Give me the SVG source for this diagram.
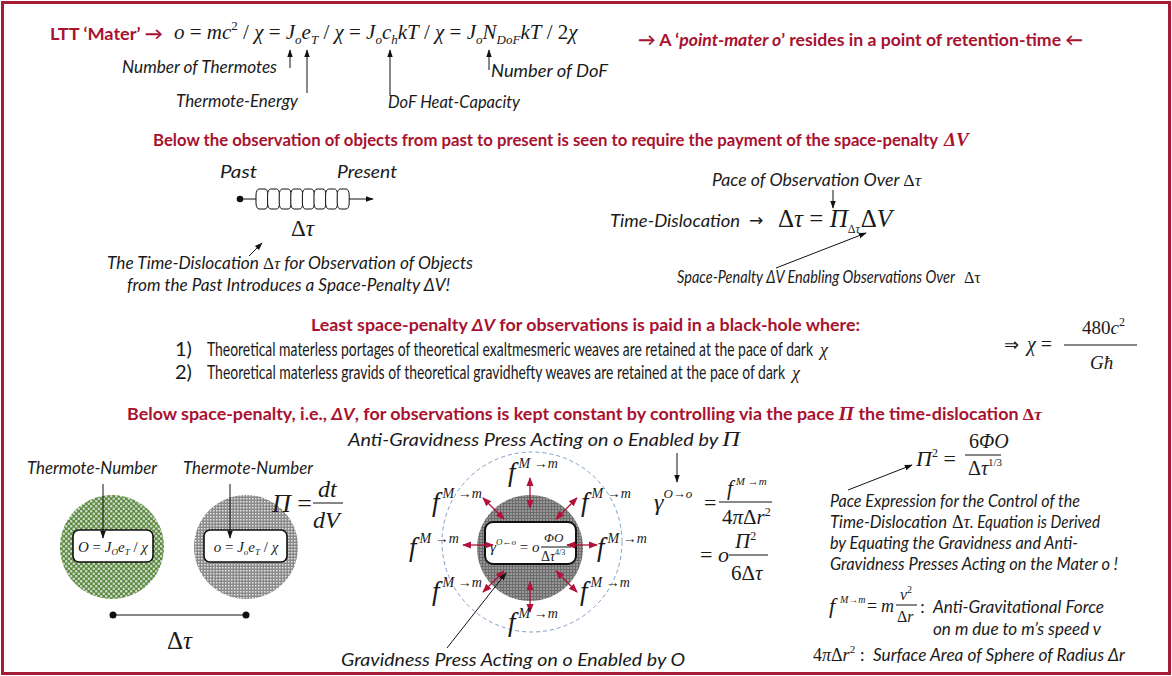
<svg xmlns="http://www.w3.org/2000/svg" width="1172" height="676" viewBox="0 0 1172 676">
<defs>
<style>
text{font-family:Lato,"Liberation Sans",sans-serif;fill:#1a1a1a}
.red{fill:#A8122F;font-weight:bold;font-size:17px}
.it{font-style:italic;font-size:17px}
.m{font-family:"Liberation Serif","Times New Roman",serif;font-style:italic}
.r{font-family:"Liberation Serif","Times New Roman",serif;font-style:normal}
.ln{stroke:#111;stroke-width:1;fill:none}
.arr{stroke:#111;stroke-width:1;fill:none;marker-end:url(#ah)}
.rarr{stroke:#B0123A;stroke-width:1.3;fill:none;marker-start:url(#rh);marker-end:url(#rh)}
.box{fill:#fff;stroke:#111;stroke-width:1.6}
.disk{fill:#fff;stroke:#111;stroke-width:1}
</style>
<marker id="ah" viewBox="0 0 10 10" refX="9" refY="5" markerWidth="8" markerHeight="8" orient="auto-start-reverse" markerUnits="userSpaceOnUse"><path d="M0,1.5 L10,5 L0,8.5 z" fill="#111"/></marker>
<marker id="rh" viewBox="0 0 10 10" refX="9" refY="5" markerWidth="9" markerHeight="9" orient="auto-start-reverse" markerUnits="userSpaceOnUse"><path d="M0,1 L10,5 L0,9 z" fill="#B0123A"/></marker>
<pattern id="pGreen" width="5" height="5" patternUnits="userSpaceOnUse"><rect width="5" height="5" fill="#5a8a3e"/><circle cx="1.25" cy="1.25" r="1.3" fill="#cfd8c8"/><circle cx="3.75" cy="3.75" r="1.3" fill="#cfd8c8"/></pattern>
<pattern id="pGray" width="3" height="3" patternUnits="userSpaceOnUse"><rect width="3" height="3" fill="#8a8a8a"/><rect width="1.5" height="1.5" fill="#e6e6e6"/></pattern>
<pattern id="pDark" width="3" height="3" patternUnits="userSpaceOnUse"><rect width="3" height="3" fill="#6c6c6c"/><circle cx="1" cy="1" r="0.75" fill="#d8d8d8"/></pattern>
<g id="fM"><text class="m" font-size="27">f<tspan font-size="14" dy="-13" dx="3">M</tspan><tspan class="r" font-size="14"> →</tspan><tspan font-size="14">m</tspan></text></g>
</defs>

<rect x="2.5" y="2.5" width="1167" height="671" fill="#fff" stroke="#A51C36" stroke-width="3"/>

<!-- Top: LTT Mater -->
<g id="ltt-mater">
<text class="red" x="50" y="40" font-size="19" textLength="113" lengthAdjust="spacingAndGlyphs">LTT ‘Mater’ →</text>
<text class="m" x="174" y="39" font-size="21">o<tspan class="r"> = </tspan>mc<tspan class="r" font-size="13" dy="-9">2</tspan><tspan class="r" dy="9"> / </tspan>χ<tspan class="r"> = </tspan>J<tspan font-size="13" dy="5">o</tspan><tspan dy="-5">e</tspan><tspan font-size="13" dy="5">T</tspan><tspan class="r" dy="-5"> / </tspan>χ<tspan class="r"> = </tspan>J<tspan font-size="13" dy="5">o</tspan><tspan dy="-5">c</tspan><tspan font-size="13" dy="5">h</tspan><tspan dy="-5">kT</tspan><tspan class="r"> / </tspan>χ<tspan class="r"> = </tspan>J<tspan font-size="13" dy="5">o</tspan><tspan dy="-5">N</tspan><tspan font-size="13" dy="5">DoF</tspan><tspan dy="-5">kT</tspan><tspan class="r"> / 2</tspan>χ</text>
</g>
<g id="top-labels">
<text class="it" x="122" y="73" font-size="16" textLength="155" lengthAdjust="spacingAndGlyphs">Number of Thermotes</text>
<text class="it" x="176" y="107" font-size="16" textLength="122" lengthAdjust="spacingAndGlyphs">Thermote-Energy</text>
<text class="it" x="388" y="108" font-size="16" textLength="132" lengthAdjust="spacingAndGlyphs">DoF Heat-Capacity</text>
<text class="it" x="491" y="77" font-size="16" textLength="117" lengthAdjust="spacingAndGlyphs">Number of DoF</text>
</g>
<g id="top-arrows">
<line class="arr" x1="290" y1="68" x2="290" y2="50"/>
<line class="arr" x1="307" y1="93" x2="307" y2="50"/>
<line class="arr" x1="390" y1="96" x2="390" y2="50"/>
<line class="arr" x1="489" y1="70" x2="489" y2="50"/>
</g>
<g id="point-mater">
<text class="red" x="638" y="46" font-size="19" textLength="445" lengthAdjust="spacingAndGlyphs">→  A ‘<tspan font-style="italic">point-mater o</tspan>’ resides in a point of retention-time ←</text>
</g>

<!-- Section 2 -->
<g id="sec2-title">
<text class="red" x="153" y="146" font-size="16.5" textLength="785" lengthAdjust="spacingAndGlyphs">Below the observation of objects from past to present is seen to require the payment of the space-penalty</text>
<text class="m" x="944" y="146" font-size="19" font-weight="bold" style="fill:#A8122F">ΔV</text>
</g>
<g id="chain">
<text class="it" x="220" y="178" font-size="19" textLength="37" lengthAdjust="spacingAndGlyphs">Past</text>
<text class="it" x="337" y="178" font-size="19" textLength="60" lengthAdjust="spacingAndGlyphs">Present</text>
<circle cx="240" cy="199" r="3.3" fill="#111"/>
<line class="ln" x1="240" y1="199" x2="257" y2="199"/>
<rect class="disk" x="256" y="189" width="12" height="20" rx="3" ry="6"/>
<rect class="disk" x="267.6" y="189" width="12" height="20" rx="3" ry="6"/>
<rect class="disk" x="279.2" y="189" width="12" height="20" rx="3" ry="6"/>
<rect class="disk" x="290.8" y="189" width="12" height="20" rx="3" ry="6"/>
<rect class="disk" x="302.4" y="189" width="12" height="20" rx="3" ry="6"/>
<rect class="disk" x="314" y="189" width="12" height="20" rx="3" ry="6"/>
<rect class="disk" x="325.6" y="189" width="12" height="20" rx="3" ry="6"/>
<rect class="disk" x="337.2" y="189" width="12" height="20" rx="3" ry="6"/>
<line class="arr" x1="349" y1="199" x2="373" y2="199"/>
<text class="r" x="291" y="236" font-size="23">Δ<tspan class="m">τ</tspan></text>
<line class="arr" x1="249" y1="256" x2="262" y2="243"/>
<text class="it" x="107" y="269" font-size="16.5" textLength="366" lengthAdjust="spacingAndGlyphs">The Time-Dislocation <tspan class="r">Δ</tspan><tspan class="m">τ</tspan> for Observation of Objects</text>
<text class="it" x="127" y="291" font-size="16.5" textLength="323" lengthAdjust="spacingAndGlyphs">from the Past Introduces a Space-Penalty ΔV!</text>
</g>
<g id="pace-eq">
<text class="it" x="712" y="186" font-size="19" textLength="209" lengthAdjust="spacingAndGlyphs">Pace of Observation Over <tspan class="r">Δ</tspan><tspan class="m">τ</tspan></text>
<line class="arr" x1="833" y1="190" x2="833" y2="208"/>
<text class="it" x="610" y="227" font-size="19" textLength="130" lengthAdjust="spacingAndGlyphs">Time-Dislocation</text>
<text x="749" y="226" font-size="17" style="font-family:'DejaVu Sans',sans-serif">→</text>
<text class="r" x="778" y="227" font-size="25">Δ<tspan class="m">τ</tspan> = <tspan class="m">Π</tspan><tspan font-size="12" dy="6">Δ</tspan><tspan class="m" font-size="12">τ</tspan><tspan dy="-6" dx="1">Δ</tspan><tspan class="m">V</tspan></text>
<line class="arr" x1="776" y1="268" x2="866" y2="233"/>
<text class="it" x="677" y="283" font-size="13.5" textLength="278" lengthAdjust="spacingAndGlyphs">Space-Penalty ΔV Enabling Observations Over</text>
<text class="r" x="964" y="283" font-size="16">Δτ</text>
</g>

<!-- Section 3 -->
<g id="sec3">
<text class="red" x="311" y="331" font-size="18" textLength="549" lengthAdjust="spacingAndGlyphs">Least space-penalty <tspan font-style="italic">ΔV</tspan> for observations is paid in a black-hole where:</text>
<g transform="translate(0,356) scale(1,1.45)">
<text x="175" y="0" font-size="13" fill="#222" textLength="17" lengthAdjust="spacingAndGlyphs">1)</text>
<text x="207" y="0" font-size="13" fill="#222" textLength="606" lengthAdjust="spacingAndGlyphs">Theoretical materless portages of theoretical exaltmesmeric weaves are retained at the pace of dark</text>
</g>
<text class="m" x="820" y="356" font-size="18">χ</text>
<g transform="translate(0,379) scale(1,1.45)">
<text x="175" y="0" font-size="13" fill="#222" textLength="17" lengthAdjust="spacingAndGlyphs">2)</text>
<text x="207" y="0" font-size="13" fill="#222" textLength="578" lengthAdjust="spacingAndGlyphs">Theoretical materless gravids of theoretical gravidhefty weaves are retained at the pace of dark</text>
</g>
<text class="m" x="792" y="379" font-size="18">χ</text>
</g>
<g id="chi-eq">
<text x="1004" y="351" font-size="18" style="font-family:'DejaVu Sans',sans-serif">⇒</text>
<text class="m" x="1027" y="351" font-size="20">χ<tspan class="r"> =</tspan></text>
<text class="r" x="1082" y="334" font-size="19">480<tspan class="m">c</tspan><tspan font-size="12" dy="-8">2</tspan></text>
<line class="ln" x1="1064" y1="345" x2="1137" y2="345"/>
<text class="m" x="1090" y="369" font-size="19">Għ</text>
</g>

<!-- Section 4 -->
<g id="sec4-title">
<text class="red" x="127" y="420" font-size="17.5" textLength="915" lengthAdjust="spacingAndGlyphs">Below space-penalty, i.e., <tspan font-style="italic">ΔV</tspan>, for observations is kept constant by controlling via the pace <tspan class="m" font-size="19">Π</tspan> the time-dislocation <tspan class="r">Δ</tspan><tspan class="m">τ</tspan></text>
</g>

<!-- Bottom left -->
<g id="mater-O">
<circle cx="112" cy="547" r="52" fill="url(#pGreen)"/>
<rect class="box" x="73" y="530" width="80" height="32" rx="6"/>
<text class="m" x="113" y="552" font-size="15" text-anchor="middle">O<tspan class="r"> = </tspan>J<tspan font-size="9" dy="3">O</tspan><tspan dy="-3">e</tspan><tspan font-size="9" dy="3">T</tspan><tspan class="r" dy="-3"> / </tspan>χ</text>
<text class="it" x="27" y="474" font-size="17.5" textLength="130" lengthAdjust="spacingAndGlyphs">Thermote-Number</text>
<line class="arr" x1="103" y1="484" x2="103" y2="538"/>
</g>
<g id="mater-o">
<circle cx="246" cy="547" r="52" fill="url(#pGray)"/>
<rect class="box" x="204" y="530" width="83" height="32" rx="6"/>
<text class="m" x="246" y="552" font-size="15" text-anchor="middle">o<tspan class="r"> = </tspan>J<tspan font-size="9" dy="3">o</tspan><tspan dy="-3">e</tspan><tspan font-size="9" dy="3">T</tspan><tspan class="r" dy="-3"> / </tspan>χ</text>
<text class="it" x="183" y="474" font-size="17.5" textLength="130" lengthAdjust="spacingAndGlyphs">Thermote-Number</text>
<line class="arr" x1="230" y1="484" x2="230" y2="538"/>
</g>
<g id="pi-def">
<text class="m" x="272" y="512" font-size="26">Π<tspan class="r"> =</tspan></text>
<text class="m" x="318" y="497" font-size="24">dt</text>
<line class="ln" x1="313" y1="503" x2="343" y2="503"/>
<text class="m" x="313" y="528" font-size="24">dV</text>
</g>
<g id="dtau-line">
<circle cx="113" cy="615" r="3.5" fill="#111"/>
<circle cx="246" cy="615" r="3.5" fill="#111"/>
<line class="ln" x1="113" y1="615" x2="246" y2="615"/>
<text class="r" x="167" y="649" font-size="25">Δ<tspan class="m">τ</tspan></text>
</g>

<!-- Center -->
<g id="press-diagram">
<text class="it" x="348" y="446" font-size="20" textLength="392" lengthAdjust="spacingAndGlyphs">Anti-Gravidness Press Acting on o Enabled by <tspan class="m" font-size="21">Π</tspan></text>
<circle cx="532" cy="542" r="90" fill="none" stroke="#7f9fc4" stroke-width="1" stroke-dasharray="4 3"/>
<circle cx="530" cy="548" r="53" fill="url(#pDark)"/>
<rect class="box" x="485" y="522" width="91" height="42" rx="8" style="stroke-width:2"/>
<text class="m" x="490" y="552" font-size="15">γ<tspan font-size="9" dy="-7">O←o</tspan><tspan class="r" dy="7"> = </tspan>o</text>
<text class="m" x="544" y="542" font-size="13">ΦO</text>
<line class="ln" x1="541" y1="547" x2="571" y2="547"/>
<text class="r" x="541" y="561" font-size="14">Δ<tspan class="m">τ</tspan><tspan font-size="8" dy="-6">4/3</tspan></text>
</g>
<g id="connectors">
<line class="rarr" x1="567" y1="545" x2="597" y2="545"/>
<line class="rarr" x1="493" y1="545" x2="463" y2="545"/>
<line class="rarr" x1="530" y1="508" x2="530" y2="478"/>
<line class="rarr" x1="530" y1="582" x2="530" y2="612"/>
<line class="rarr" x1="556" y1="519" x2="577" y2="498"/>
<line class="rarr" x1="504" y1="519" x2="483" y2="498"/>
<line class="rarr" x1="556" y1="571" x2="577" y2="592"/>
<line class="rarr" x1="504" y1="571" x2="483" y2="592"/>
<line class="arr" x1="447" y1="648" x2="506" y2="573"/>
<line class="arr" x1="677" y1="453" x2="677" y2="482"/>
</g>
<g id="f-labels">
<use href="#fM" x="508" y="481"/>
<use href="#fM" x="432" y="511"/>
<use href="#fM" x="581" y="511"/>
<use href="#fM" x="409" y="556"/>
<use href="#fM" x="597" y="556"/>
<use href="#fM" x="432" y="600"/>
<use href="#fM" x="580" y="600"/>
<use href="#fM" x="508" y="631"/>
</g>
<text class="it" x="341" y="666" font-size="20" textLength="344" lengthAdjust="spacingAndGlyphs">Gravidness Press Acting on o Enabled by O</text>

<!-- gamma equation -->
<g id="gamma-eq">
<text class="m" x="654" y="510" font-size="24">γ<tspan font-size="13" dy="-12">O→o</tspan></text>
<text class="r" x="704" y="510" font-size="22">=</text>
<text class="m" x="727" y="495" font-size="21">f<tspan font-size="11" dy="-10" dx="3">M</tspan><tspan class="r" font-size="11"> →</tspan><tspan font-size="11">m</tspan></text>
<line class="ln" x1="719" y1="502" x2="772" y2="502"/>
<text class="r" x="722" y="524" font-size="21">4<tspan class="m">π</tspan>Δ<tspan class="m">r</tspan><tspan font-size="12" dy="-8">2</tspan></text>
<text class="r" x="700" y="562" font-size="22">= <tspan class="m">o</tspan></text>
<text class="m" x="735" y="548" font-size="21">Π<tspan class="r" font-size="12" dy="-8">2</tspan></text>
<line class="ln" x1="729" y1="555" x2="768" y2="555"/>
<text class="r" x="731" y="580" font-size="21">6Δ<tspan class="m">τ</tspan></text>
</g>

<!-- Right side -->
<g id="pace-expression">
<text class="m" x="916" y="466" font-size="22">Π<tspan class="r" font-size="12" dy="-9">2</tspan><tspan class="r" dy="9"> =</tspan></text>
<text class="m" x="969" y="448" font-size="20"><tspan class="r">6</tspan>ΦO</text>
<line class="ln" x1="965" y1="455" x2="1001" y2="455"/>
<text class="r" x="968" y="475" font-size="20">Δ<tspan class="m">τ</tspan><tspan font-size="11" dy="-9">1/3</tspan></text>
<line class="arr" x1="848" y1="490" x2="912" y2="465"/>
<text class="it" x="830" y="507" font-size="18" textLength="250" lengthAdjust="spacingAndGlyphs">Pace Expression for the Control of the</text>
<text class="it" x="830" y="528" font-size="18" textLength="117" lengthAdjust="spacingAndGlyphs">Time-Dislocation</text>
<text class="r" x="952" y="528" font-size="18">Δ<tspan class="m">τ</tspan></text>
<text class="it" x="970" y="528" font-size="18" textLength="130" lengthAdjust="spacingAndGlyphs">. Equation is Derived</text>
<text class="it" x="830" y="549" font-size="18" textLength="248" lengthAdjust="spacingAndGlyphs">by Equating the Gravidness and Anti-</text>
<text class="it" x="830" y="570" font-size="18" textLength="288" lengthAdjust="spacingAndGlyphs">Gravidness Presses Acting on the Mater o !</text>
</g>
<g id="force-def">
<text class="m" x="829" y="613" font-size="22">f</text>
<text class="m" x="840" y="603" font-size="10">M<tspan class="r">→</tspan>m</text>
<text class="r" x="867" y="612" font-size="18">=</text>
<text class="m" x="881" y="612" font-size="18">m</text>
<text class="m" x="900" y="600" font-size="16">v<tspan class="r" font-size="10" dy="-7">2</tspan></text>
<line class="ln" x1="896" y1="605" x2="917" y2="605"/>
<text class="r" x="897" y="622" font-size="16">Δ<tspan class="m">r</tspan></text>
<text class="r" x="920" y="613" font-size="18">:</text>
<text class="it" x="933" y="613" font-size="18" textLength="171" lengthAdjust="spacingAndGlyphs">Anti-Gravitational Force</text>
<text class="it" x="933" y="635" font-size="18" textLength="168" lengthAdjust="spacingAndGlyphs">on m due to m’s speed v</text>
<text class="r" x="813" y="661" font-size="18">4<tspan class="m">π</tspan>Δ<tspan class="m">r</tspan><tspan font-size="11" dy="-8">2</tspan><tspan dy="8"> :</tspan></text>
<text class="it" x="873" y="661" font-size="18" textLength="252" lengthAdjust="spacingAndGlyphs">Surface Area of Sphere of Radius Δr</text>
</g>
</svg>
